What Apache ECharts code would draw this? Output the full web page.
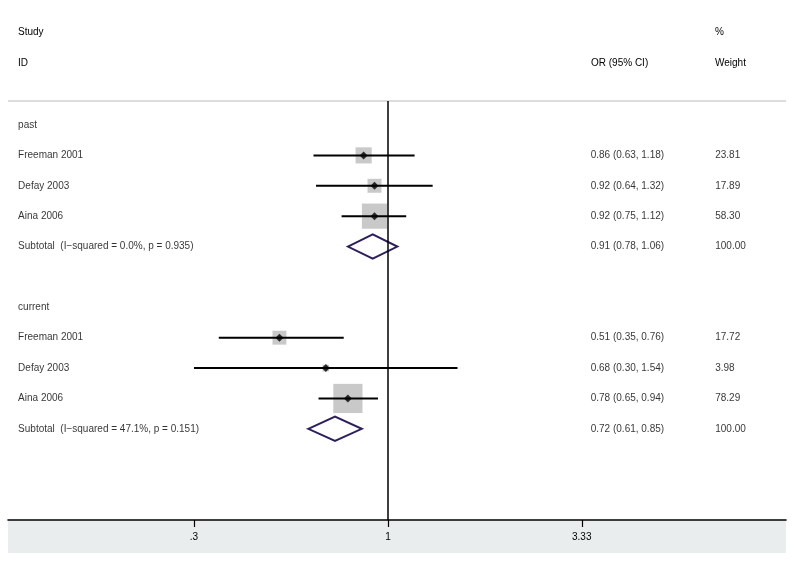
<!DOCTYPE html>
<html>
<head>
<meta charset="utf-8">
<script src="https://cdn.jsdelivr.net/npm/echarts@6/dist/echarts.min.js"></script>
<style>html,body{margin:0;padding:0;background:#fff}#c{width:794px;height:562px}</style>
</head>
<body>
<div id="c"></div>
<script>
// ---- data ----
const studies = ["Freeman 2001", "Defay 2003", "Aina 2006"];
const groupNames = ["past", "current"];
const pastOR = [0.86, 0.92, 0.92];
const pastLo = [0.63, 0.64, 0.75];
const pastHi = [1.18, 1.32, 1.12];
const pastWeight = [23.81, 17.89, 58.30];
const pastSubtotal = [0.91, 0.78, 1.06];
const pastHet = "I\u2212squared = 0.0%, p = 0.935";
const currentOR = [0.51, 0.68, 0.78];
const currentLo = [0.35, 0.30, 0.65];
const currentHi = [0.76, 1.54, 0.94];
const currentWeight = [17.72, 3.98, 78.29];
const currentSubtotal = [0.72, 0.61, 0.85];
const currentHet = "I\u2212squared = 47.1%, p = 0.151";
const tickValues = [0.3, 1, 3.33];
const tickLabels = [".3", "1", "3.33"];

// ---- build rows ----
const groups = [
  {name: groupNames[0], or: pastOR, lo: pastLo, hi: pastHi, w: pastWeight, sub: pastSubtotal, het: pastHet},
  {name: groupNames[1], or: currentOR, lo: currentLo, hi: currentHi, w: currentWeight, sub: currentSubtotal, het: currentHet}
];
const labelRows = [], orRows = [], wRows = [], studyRows = [], subRows = [];
let row = 0;
groups.forEach(g => {
  labelRows.push([row, g.name]); row++;
  g.or.forEach((v, i) => {
    labelRows.push([row, studies[i]]);
    orRows.push([row, v.toFixed(2) + " (" + g.lo[i].toFixed(2) + ", " + g.hi[i].toFixed(2) + ")"]);
    wRows.push([row, g.w[i].toFixed(2)]);
    studyRows.push({y: row, or: v, lo: g.lo[i], hi: g.hi[i], w: g.w[i]});
    row++;
  });
  labelRows.push([row, "Subtotal  (" + g.het + ")"]);
  orRows.push([row, g.sub[0].toFixed(2) + " (" + g.sub[1].toFixed(2) + ", " + g.sub[2].toFixed(2) + ")"]);
  wRows.push([row, "100.00"]);
  subRows.push({y: row, or: g.sub[0], lo: g.sub[1], hi: g.sub[2]});
  row += 2;
});

const FONT = "Liberation Sans, Arial, Helvetica, sans-serif";
const TXT = "#000";
const colStudy = 0.013, colOR = 0.749, colW = 0.909; // fractions of grid width

function textSeries(rows, col) {
  return {
    type: 'scatter', xAxisIndex: 1, yAxisIndex: 0, symbolSize: 0, silent: true, clip: false,
    data: rows.map(r => ({value: [col, r[0]], label: {formatter: r[1]}})),
    label: {show: true, position: 'right', distance: 0, color: TXT, fontSize: 10, fontFamily: FONT, align: 'left', verticalAlign: 'middle'},
    z: 10
  };
}

const chart = echarts.init(document.getElementById('c'), null, {renderer: 'canvas'});
const option = {
  animation: false,
  backgroundColor: '#fff',
  grid: {left: 8, right: 8, top: 101, bottom: 42, containLabel: false},
  xAxis: [{
    type: 'log', logBase: 10, min: 0.0946, max: 11.83, position: 'bottom',
    axisLine: {show: true, onZero: false, lineStyle: {color: '#000', width: 1.6}},
    axisTick: {show: true, customValues: tickValues, length: 7, lineStyle: {color: '#000', width: 1.2}},
    axisLabel: {show: true, customValues: tickValues, margin: 12, color: TXT, fontSize: 10, fontFamily: FONT,
      formatter: v => { let b = 0; tickValues.forEach((t, i) => { if (Math.abs(Math.log(t) - Math.log(v)) < Math.abs(Math.log(tickValues[b]) - Math.log(v))) b = i; }); return tickLabels[b]; }},
    splitLine: {show: false}
  }, {
    type: 'value', min: 0, max: 1, show: false
  }],
  yAxis: {type: 'value', inverse: true, min: -0.79, max: 13, show: false},
  graphic: [
    {type: 'rect', shape: {x: 8, y: 520, width: 778, height: 33}, style: {fill: '#e9edee'}, z: -10, silent: true},
    {type: 'line', shape: {x1: 8, y1: 101, x2: 786, y2: 101}, style: {stroke: '#d2d2d2', lineWidth: 1.5}, silent: true},
    {type: 'text', left: 18, top: 27, style: {text: 'Study', fill: TXT, font: '10px ' + FONT}},
    {type: 'text', left: 18, top: 58, style: {text: 'ID', fill: TXT, font: '10px ' + FONT}},
    {type: 'text', left: 591, top: 58, style: {text: 'OR (95% CI)', fill: TXT, font: '10px ' + FONT}},
    {type: 'text', left: 715, top: 27, style: {text: '%', fill: TXT, font: '10px ' + FONT}},
    {type: 'text', left: 715, top: 58, style: {text: 'Weight', fill: TXT, font: '10px ' + FONT}}
  ],
  series: [
    {
      type: 'scatter', name: 'weight', symbol: 'rect', silent: true,
      data: studyRows.map(s => [s.or, s.y, s.w]),
      symbolSize: d => 3.3 * Math.sqrt(d[2]),
      itemStyle: {color: '#bcbcbc'}, z: 2,
      markLine: {
        silent: true, symbol: 'none', label: {show: false},
        lineStyle: {color: '#000', width: 1.5, type: 'solid'},
        data: [{xAxis: 1}]
      }
    },
    {
      type: 'custom', name: 'ci', silent: true, z: 3,
      data: studyRows.map(s => [s.lo, s.hi, s.y]),
      renderItem: (params, api) => {
        const a = api.coord([api.value(0), api.value(2)]);
        const b = api.coord([api.value(1), api.value(2)]);
        return {type: 'line', shape: {x1: a[0], y1: a[1], x2: b[0], y2: b[1]}, style: {stroke: '#000', lineWidth: 2}};
      },
      encode: {x: [0, 1], y: 2}
    },
    {
      type: 'scatter', name: 'est', symbol: 'diamond', symbolSize: 8, silent: true, z: 4,
      data: studyRows.map(s => [s.or, s.y]),
      itemStyle: {color: '#000'}
    },
    {
      type: 'custom', name: 'subtotal', silent: true, z: 4,
      data: subRows.map(s => [s.or, s.lo, s.hi, s.y]),
      encode: {x: [0, 1, 2], y: 3},
      renderItem: (params, api) => {
        const y = api.value(3);
        const c = api.coord([api.value(0), y]);
        const l = api.coord([api.value(1), y]);
        const r = api.coord([api.value(2), y]);
        const h = api.size([0, 0.4])[1];
        return {type: 'polygon', shape: {points: [[l[0], c[1]], [c[0], c[1] - h], [r[0], c[1]], [c[0], c[1] + h]]},
          style: {fill: 'none', stroke: '#2c1f5c', lineWidth: 2}};
      }
    },
    textSeries(labelRows, colStudy),
    textSeries(orRows, colOR),
    textSeries(wRows, colW)
  ]
};
chart.setOption(option);
</script>
</body>
</html>
